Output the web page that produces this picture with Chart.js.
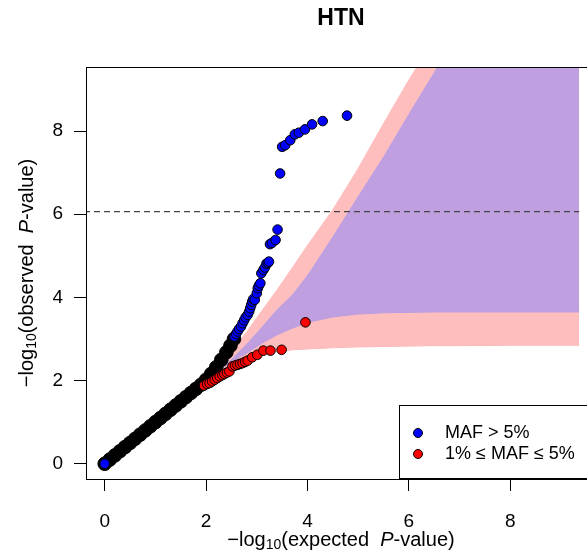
<!DOCTYPE html>
<html>
<head>
<meta charset="utf-8">
<script src="https://cdn.jsdelivr.net/npm/chart.js@4.4.1/dist/chart.umd.min.js"></script>
<style>
html, body { margin: 0; padding: 0; background: #fff; overflow: hidden; }
canvas { display: block; }
</style>
</head>
<body>
<canvas id="qq" width="587" height="555"></canvas>
<script>
// tick labels
var xTicks = [0, 2, 4, 6, 8];
var yTicks = [0, 2, 4, 6, 8];
var cutoff = 6.06;

// MAF > 5% (blue points)
var blueX = [0, 2.56, 2.59, 2.62, 2.65, 2.69, 2.72, 2.75, 2.78, 2.82, 2.85, 2.87, 2.89, 2.91, 2.93, 2.96, 3.0, 3.02, 3.04, 3.07, 3.09, 3.13, 3.16, 3.19, 3.22, 3.24, 3.26, 3.30, 3.37, 3.41, 3.46, 3.50, 3.56, 3.66, 3.75, 3.83, 3.95, 4.09, 4.30, 4.78];
var blueY = [0, 3.06, 3.12, 3.18, 3.24, 3.30, 3.38, 3.45, 3.52, 3.58, 3.66, 3.74, 3.82, 3.90, 3.96, 3.94, 4.10, 4.22, 4.28, 4.34, 4.58, 4.66, 4.72, 4.81, 4.83, 4.86, 5.28, 5.31, 5.38, 5.63, 6.98, 7.62, 7.66, 7.78, 7.92, 7.96, 8.04, 8.16, 8.24, 8.37];

// 1% <= MAF <= 5% (red points)
var redX = [1.96, 2.02, 2.07, 2.12, 2.17, 2.22, 2.27, 2.32, 2.36, 2.41, 2.46, 2.52, 2.57, 2.62, 2.67, 2.72, 2.77, 2.82, 2.91, 3.01, 3.13, 3.27, 3.49, 3.96];
var redY = [1.88, 1.92, 1.94, 1.98, 2.02, 2.06, 2.10, 2.13, 2.16, 2.19, 2.22, 2.34, 2.36, 2.38, 2.40, 2.42, 2.45, 2.48, 2.56, 2.62, 2.72, 2.72, 2.74, 3.40];

// the dense overlapping bulk near the diagonal (reads as black)
var denseX = [0, 0.1, 0.2, 0.3, 0.4, 0.5, 0.6, 0.7, 0.8, 0.9, 1.0, 1.1, 1.2, 1.3, 1.4, 1.5, 1.6, 1.7, 1.8, 1.9, 2.0, 2.1, 2.2, 2.3, 2.4, 2.48, 2.55];
var denseY = [0, 0.1, 0.2, 0.3, 0.4, 0.5, 0.6, 0.7, 0.8, 0.9, 1.0, 1.1, 1.2, 1.3, 1.4, 1.5, 1.6, 1.7, 1.8, 1.9, 2.02, 2.16, 2.32, 2.5, 2.68, 2.84, 3.0];

// confidence bands
var bandX       = [2.2, 2.5, 2.8, 3.1, 3.4, 3.7, 4.0, 4.5, 5.0, 5.5, 6.0, 6.5, 7.0, 8.0, 9.6];
var pinkUpper   = [2.2, 2.7, 3.17, 3.68, 4.18, 4.71, 5.25, 6.11, 7.1, 8.18, 9.23, 10.2, 11.2, 13.2, 16.4];
var pinkLower   = [2.2, 2.35, 2.5, 2.61, 2.7, 2.74, 2.76, 2.79, 2.81, 2.82, 2.83, 2.84, 2.84, 2.85, 2.85];
var purpleUpper = [2.2, 2.5, 2.87, 3.28, 3.70, 4.05, 4.52, 5.45, 6.42, 7.37, 8.4, 9.4, 10.4, 12.4, 15.6];
var purpleLower = [2.2, 2.45, 2.66, 2.9, 3.1, 3.26, 3.40, 3.53, 3.60, 3.63, 3.64, 3.65, 3.65, 3.65, 3.65];

function pts(xs, ys) {
    return xs.map(function (v, i) { return { x: v, y: ys[i] }; });
}

var FONT = '"Liberation Sans", Arial, sans-serif';

function richText(ctx, parts, cx, cy) {
    var w = 0;
    parts.forEach(function (p) { ctx.font = p.font; w += ctx.measureText(p.text).width; });
    var px = cx - w / 2;
    parts.forEach(function (p) {
        ctx.font = p.font;
        ctx.fillText(p.text, px, cy + (p.dy || 0));
        px += ctx.measureText(p.text).width;
    });
}

function axisTitle(word) {
    return [
        { text: '\u2212log', font: '20px ' + FONT },
        { text: '10', font: '14px ' + FONT, dy: 5 },
        { text: '(' + word + '  ', font: '20px ' + FONT },
        { text: 'P', font: 'italic 20px ' + FONT },
        { text: '-value)', font: '20px ' + FONT }
    ];
}

// title, box, axis titles, legend
var decor = {
    id: 'decor',
    afterDraw: function (chart) {
        var ctx = chart.ctx, a = chart.chartArea;
        ctx.save();
        ctx.strokeStyle = '#000';
        ctx.lineWidth = 1;
        ctx.strokeRect(a.left + 0.5, a.top + 0.5, a.right - a.left + 20, a.bottom - a.top);

        ctx.fillStyle = '#000';
        ctx.textBaseline = 'middle';
        ctx.textAlign = 'center';
        ctx.font = 'bold 23px ' + FONT;
        ctx.fillText('HTN', 341, 19);

        ctx.textAlign = 'left';
        richText(ctx, axisTitle('expected'), 341, 540);
        ctx.save();
        ctx.translate(27, 273);
        ctx.rotate(-Math.PI / 2);
        richText(ctx, axisTitle('observed'), 0, 0);
        ctx.restore();

        // legend
        ctx.fillStyle = '#fff';
        ctx.fillRect(399.5, 405.5, 200, 73);
        ctx.strokeRect(399.5, 405.5, 200, 73);
        var items = [
            { c: chart.data.datasets[0].pointBackgroundColor, t: 'MAF > 5%', y: 433 },
            { c: chart.data.datasets[1].pointBackgroundColor, t: '1% \u2264 MAF \u2264 5%', y: 454 }
        ];
        items.forEach(function (it) {
            ctx.beginPath();
            ctx.arc(418, it.y, 4.5, 0, Math.PI * 2);
            ctx.fillStyle = it.c;
            ctx.fill();
            ctx.stroke();
            ctx.fillStyle = '#000';
            ctx.font = '18px ' + FONT;
            ctx.fillText(it.t, 445, it.y);
        });
        ctx.restore();
    }
};

function pointSet(data, fill, r) {
    return {
        data: data,
        showLine: false,
        pointRadius: r,
        pointBorderWidth: 1,
        pointBackgroundColor: fill,
        pointBorderColor: '#000'
    };
}

function bandEdge(data, fill, color, edge) {
    return {
        data: data,
        showLine: true,
        pointRadius: 0,
        borderWidth: 1,
        borderColor: edge,
        backgroundColor: color,
        fill: fill,
        tension: 0
    };
}

var ctx = document.getElementById('qq').getContext('2d');
var myChart = new Chart(ctx, {
    type: 'line',
    data: {
        datasets: [
            pointSet(pts(blueX, blueY), '#0000FF', 4.8),
            pointSet(pts(redX, redY), '#FF0000', 4.8),
            pointSet(pts(denseX, denseY), '#000000', 6.8),
            {
                data: [{ x: -1, y: cutoff }, { x: 11, y: cutoff }],
                showLine: true,
                pointRadius: 0,
                borderColor: '#444',
                borderWidth: 1.3,
                borderDash: [6, 4],
                fill: false
            },
            bandEdge(pts(bandX, purpleUpper), '+1', '#BF9FDF', '#B9A0E6'),
            bandEdge(pts(bandX, purpleLower), false, '#BF9FDF', '#B39BE3'),
            bandEdge(pts(bandX, pinkUpper), '+1', '#FFBEBE', '#FFBEBE'),
            bandEdge(pts(bandX, pinkLower), false, '#FFBEBE', '#F7B0B0')
        ]
    },
    options: {
        responsive: false,
        animation: false,
        events: [],
        layout: { padding: { top: 67, left: 0, right: 0, bottom: 0 } },
        plugins: {
            legend: { display: false },
            tooltip: { enabled: false },
            title: { display: false }
        },
        scales: {
            x: {
                type: 'linear',
                min: -0.369,
                max: 9.36,
                afterBuildTicks: function (s) { s.ticks = xTicks.map(function (v) { return { value: v }; }); },
                afterFit: function (s) { s.height = 76; },
                grid: { drawOnChartArea: false, drawTicks: true, tickLength: 12, tickColor: '#000', tickWidth: 1 },
                border: { display: true, color: '#000', width: 1 },
                ticks: { color: '#000', padding: 19, maxRotation: 0, font: { family: FONT, size: 19 } }
            },
            y: {
                type: 'linear',
                min: -0.367,
                max: 9.54,
                afterBuildTicks: function (s) { s.ticks = yTicks.map(function (v) { return { value: v }; }); },
                afterFit: function (s) { s.width = 86; },
                grid: { drawOnChartArea: false, drawTicks: true, tickLength: 12, tickColor: '#000', tickWidth: 1 },
                border: { display: true, color: '#000', width: 1 },
                ticks: { color: '#000', padding: 11, font: { family: FONT, size: 19 } }
            }
        }
    },
    plugins: [decor]
});
</script>
</body>
</html>
